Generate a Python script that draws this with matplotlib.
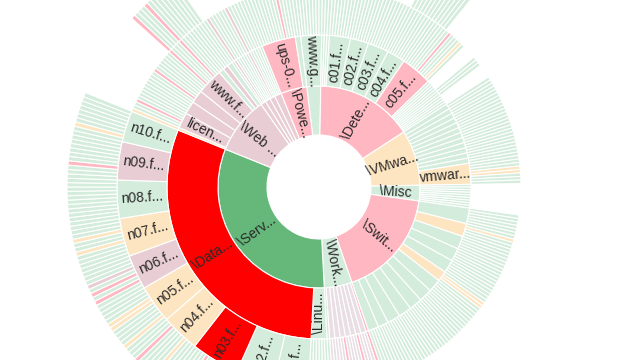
import matplotlib
matplotlib.use("Agg")
import matplotlib.pyplot as plt
import numpy as np

plt.rcParams["font.family"] = ["Liberation Sans", "DejaVu Sans"]

# colour codes used by the hierarchy
palette = {
    "G": "#66b87a",   # dark green
    "R": "#ff0000",   # red
    "p": "#ffb7c2",   # pink
    "m": "#e9cdd5",   # mauve
    "w": "#e9dee4",   # greyish mauve
    "g": "#d4ecdb",   # light green
    "y": "#fde5c1",   # cream
}

# node = (label, colour code, children)
# a child string is one leaf (size 1) per character;
# a (string, n) pair makes each of those leaves run through n rings
wwwg_children = [("www.g...", "g", ["gggggggg"])]

dete_children = [
    ("ggg", 2),
    ("c01.f...", "g", ["gggggggg"]),
    ("c02.f...", "g", ["ggggggg"]),
    ("c03.f...", "g", ["gggggggg"]),
    ("c04.f...", "g", [("ggggggg", 2)]),
    ("c05.f...", "p", [("ggggg", 2), "gpgggyg"]),
    "gggg", ("ggg", 2), "gggg",
]

vmwa_children = [
    ("", "g", ["gg"]), ("", "g", ["gg"]), ("", "g", ["gg"]), ("", "g", ["gg"]),
    ("", "g", ["gg"]), ("", "g", ["gg"]), ("", "g", ["gg"]), ("", "g", ["gg"]),
    ("", "g", ["gg"]), ("", "g", ["gg"]), ("", "g", ["gg"]), ("", "g", ["gg"]),
    ("vmwar...", "y", ["gggyyggg"]),
]

misc_children = ["ggggggggg"]

swit_children = [
    ("", "g", ["gggggg"]),
    ("", "y", ["gyggg"]),
    ("", "g", ["ggggg"]),
    ("", "g", ["ggggg"]),
    ("", "g", ["ggggg"]),
    ("", "y", ["gyyg"]),
    ("", "g", ["ggggg"]),
    ("", "g", ["ggggg"]),
    ("", "g", ["ggggg"]),
    ("", "g", ["ggggg"]),
    ("", "g", ["ggggg"]),
    ("", "g", ["gggg"]),
    ("", "g", ["gggg"]),
]

work_children = [
    ("", "p", ["p"]),
    ("", "w", ["ww"]), ("", "w", ["wp"]), ("", "w", ["ww"]), ("", "w", ["ww"]),
    ("", "w", ["pw"]), ("", "w", ["ww"]), ("", "w", ["ww"]),
    ("", "g", ["g"]),
]

data_children = [
    ("n01.f...", "g", ["gggggggggg"]),
    ("n02.f...", "g", ["ggggggggggg"]),
    ("n03.f...", "R", ["gggpgggggpgggg"]),
    ("n04.f...", "y", ["gggyggggpgg"]),
    ("n05.f...", "y", ["gyggggyyggg"]),
    ("n06.f...", "m", ["ggpgpgmggg"]),
    ("n07.f...", "y", ["ggggyggyggg"]),
    ("n08.f...", "g", ["ggggggggggg"]),
    ("n09.f...", "m", ["gggpggggggg"]),
    ("n10.f...", "g", ["gyggggggg"]),
]

serv_children = [
    ("\\Linu...", "g", ["gggggg"]),
    ("\\Data...", "R", data_children),
]

web_children = [
    ("", "y", ["y"]),
    ("licen...", "m", ["ggpggg"]),
    ("", "m", ["ggggg"]),
    ("", "m", ["gpggg"]),
    ("www.f...", "m", ["ggg", ("pgggpgg", 2)]),
    ("", "g", [("gg", 2)]),
    ("", "m", [("gg", 2)]),
    ("", "g", [("gg", 2)]),
]

powe_children = [
    ("ups-0...", "p", ["gggggggggpggg"]),
    ("", "g", ["gg"]),
]

top_level = [
    ("", "g", wwwg_children),
    ("\\Dete...", "p", dete_children),
    ("\\VMwa...", "y", vmwa_children),
    ("\\Misc", "g", misc_children),
    ("\\Swit...", "p", swit_children),
    ("\\Work...", "g", work_children),
    ("\\Serv...", "G", serv_children),
    ("\\Web ...", "m", web_children),
    ("", "m", [("gmg", 2)]),
    ("", "m", [("ggg", 2)]),
    ("", "m", [("gmg", 2)]),
    ("", "m", [("gggg", 2)]),
    ("\\Powe...", "p", powe_children),
]

ring_edges = [52, 101, 152, 202, 252]   # pixels
start_angle = -7                        # degrees clockwise from 12 o'clock


def size(entry):
    if isinstance(entry, str):
        return len(entry)
    if len(entry) == 2:
        return len(entry[0])
    return sum(size(c) for c in entry[2])


wedges = []   # (start, span, depth, colour, label)


def layout(entries, t, depth):
    for e in entries:
        if isinstance(e, str) or len(e) == 2:
            codes, n = (e, 1) if isinstance(e, str) else e
            for c in codes:
                for d in range(depth, depth + n):
                    wedges.append((t, 1, d, c, ""))
                t += 1
        else:
            label, c, kids = e
            s = size(e)
            wedges.append((t, s, depth, c, label))
            layout(kids, t, depth + 1)
            t += s


total = sum(size(e) for e in top_level)
layout(top_level, 0, 0)

W, H = 640, 360
cx, cy = 319, 187
R = 260
fig = plt.figure(figsize=(W / 100, H / 100), dpi=100)
ax = fig.add_axes([(cx - R) / W, (H - cy - R) / H, 2 * R / W, 2 * R / H],
                  projection="polar")
ax.set_theta_zero_location("N")
ax.set_theta_direction(-1)
ax.set_ylim(0, R)
ax.set_axis_off()

scale = 360.0 / total
for t, s, d, c, label in wedges:
    a0 = start_angle + t * scale
    span = s * scale
    r0, r1 = ring_edges[d], ring_edges[d + 1]
    ax.bar(np.deg2rad(a0 + span / 2), r1 - r0, width=np.deg2rad(span),
           bottom=r0, color=palette[c], edgecolor="white", linewidth=0.8,
           align="center")
    if label:
        mid = a0 + span / 2
        rot = 90 - mid
        rot = (rot + 180) % 360 - 180
        if rot > 90:
            rot -= 180
        elif rot <= -90:
            rot += 180
        ax.text(np.deg2rad(mid), (r0 + r1) / 2, label, rotation=rot,
                rotation_mode="anchor", ha="center", va="center",
                fontsize=10, color="#2a2a2a")

fig.savefig("out.png", dpi=100)
